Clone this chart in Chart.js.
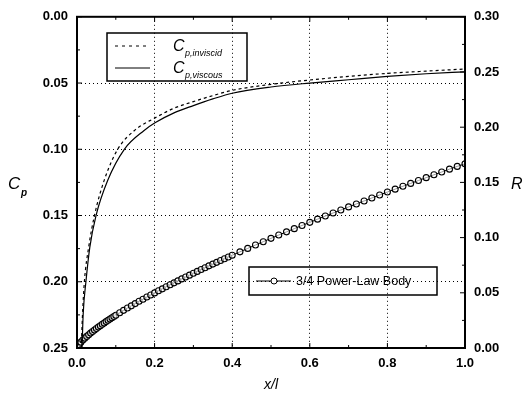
<!DOCTYPE html>
<html>
<head>
<meta charset="utf-8">
<script src="https://cdn.jsdelivr.net/npm/chart.js@4"></script>
<style>
  html, body { margin: 0; padding: 0; background: #fff; }
  #wrap { width: 524px; height: 395px; }
</style>
</head>
<body>
<div id="wrap"><canvas id="cpChart" width="524" height="395"></canvas></div>
<script>
// Cp along the body (left axis, reversed)
const xInviscid = [0.011, 0.014, 0.019, 0.030, 0.045, 0.070, 0.105, 0.148, 0.200, 0.250, 0.300, 0.350, 0.400, 0.500, 0.600, 0.700, 0.800, 0.900, 1.000];
const cpInviscid = [0.250, 0.226, 0.200, 0.174, 0.150, 0.1235, 0.100, 0.0858, 0.0765, 0.069, 0.064, 0.0595, 0.0555, 0.051, 0.0477, 0.045, 0.0427, 0.041, 0.0394];

const xViscous = [0.013, 0.016, 0.023, 0.033, 0.049, 0.079, 0.122, 0.173, 0.201, 0.250, 0.300, 0.350, 0.400, 0.500, 0.600, 0.700, 0.800, 0.900, 1.000];
const cpViscous = [0.250, 0.224, 0.200, 0.174, 0.150, 0.1235, 0.100, 0.0858, 0.080, 0.0725, 0.067, 0.062, 0.0577, 0.053, 0.050, 0.0475, 0.045, 0.043, 0.0415];

// body radius, 3/4 power-law (right axis)
const xBody = [0, 0.005, 0.01, 0.015, 0.02, 0.025, 0.03, 0.035, 0.04, 0.045, 0.05, 0.055, 0.06, 0.065, 0.07, 0.075, 0.08, 0.085, 0.09, 0.095,
  0.10, 0.11, 0.12, 0.13, 0.14, 0.15, 0.16, 0.17, 0.18, 0.19, 0.20, 0.21, 0.22, 0.23, 0.24, 0.25, 0.26, 0.27, 0.28, 0.29,
  0.30, 0.31, 0.32, 0.33, 0.34, 0.35, 0.36, 0.37, 0.38, 0.39, 0.40, 0.42, 0.44, 0.46, 0.48, 0.50, 0.52, 0.54, 0.56, 0.58, 0.60,
  0.62, 0.64, 0.66, 0.68, 0.70, 0.72, 0.74, 0.76, 0.78, 0.80, 0.82, 0.84, 0.86, 0.88, 0.90, 0.92, 0.94, 0.96, 0.98, 1.00];
const rBody = [0, 0.0031, 0.0053, 0.0072, 0.0089, 0.0105, 0.0120, 0.0135, 0.0149, 0.0163, 0.0177, 0.0190, 0.0202, 0.0215, 0.0227, 0.0239, 0.0251, 0.0263, 0.0274, 0.0286,
  0.0297, 0.0319, 0.0341, 0.0362, 0.0382, 0.0402, 0.0423, 0.0442, 0.0462, 0.0480, 0.0499, 0.0518, 0.0536, 0.0555, 0.0573, 0.0590, 0.0608, 0.0626, 0.0643, 0.0660,
  0.0677, 0.0694, 0.0711, 0.0727, 0.0744, 0.0760, 0.0776, 0.0792, 0.0808, 0.0824, 0.0840, 0.0871, 0.0902, 0.0933, 0.0963, 0.0993, 0.1023, 0.1052, 0.1081, 0.1110, 0.1138,
  0.1167, 0.1195, 0.1223, 0.1250, 0.1278, 0.1305, 0.1332, 0.1359, 0.1386, 0.1413, 0.1439, 0.1465, 0.1491, 0.1517, 0.1543, 0.1569, 0.1594, 0.1620, 0.1645, 0.1668];

const xTicks = [0, 0.2, 0.4, 0.6, 0.8, 1.0];
const cpTicks = [0, 0.05, 0.10, 0.15, 0.20, 0.25];
const rTicks = [0, 0.05, 0.10, 0.15, 0.20, 0.25, 0.30];

const toPts = (xs, ys) => xs.map((x, i) => ({ x, y: ys[i] }));
const tickFont = { family: 'Liberation Sans, Arial, sans-serif', size: 13, weight: 'bold' };

// frame, inward ticks, axis titles and the two legend boxes
const decorations = {
  id: 'decorations',
  afterDraw(chart) {
    const { ctx, chartArea: a, scales } = chart;
    ctx.save();
    ctx.strokeStyle = '#000';
    ctx.lineWidth = 2;
    ctx.strokeRect(a.left, a.top, a.right - a.left, a.bottom - a.top);

    ctx.lineWidth = 1;
    ctx.beginPath();
    for (let i = 0; i <= 10; i++) {
      const px = scales.x.getPixelForValue(i / 10);
      const len = i % 2 === 0 ? 5 : 3;
      ctx.moveTo(px, a.bottom); ctx.lineTo(px, a.bottom - len);
      ctx.moveTo(px, a.top); ctx.lineTo(px, a.top + len);
    }
    for (let i = 0; i <= 10; i++) {
      const py = scales.y.getPixelForValue(i * 0.025);
      const len = i % 2 === 0 ? 5 : 3;
      ctx.moveTo(a.left, py); ctx.lineTo(a.left + len, py);
    }
    for (let i = 0; i <= 12; i++) {
      const py = scales.y2.getPixelForValue(i * 0.025);
      const len = i % 2 === 0 ? 5 : 3;
      ctx.moveTo(a.right, py); ctx.lineTo(a.right - len, py);
    }
    ctx.stroke();

    // axis titles
    ctx.fillStyle = '#000';
    ctx.textBaseline = 'alphabetic';
    ctx.textAlign = 'left';
    ctx.font = 'italic 17px Liberation Sans, Arial, sans-serif';
    ctx.fillText('C', 8, 189);
    ctx.font = 'italic bold 10px Liberation Sans, Arial, sans-serif';
    ctx.fillText('p', 21, 196);
    ctx.font = 'italic 16px Liberation Sans, Arial, sans-serif';
    ctx.fillText('R', 511, 189);
    ctx.font = 'italic 14px Liberation Sans, Arial, sans-serif';
    ctx.fillText('x/l', 264, 389);

    // legend 1
    ctx.lineWidth = 1.5;
    ctx.strokeRect(107, 33, 140, 48);
    ctx.lineWidth = 1;
    ctx.setLineDash([3, 4]);
    ctx.beginPath(); ctx.moveTo(115, 46); ctx.lineTo(150, 46); ctx.stroke();
    ctx.setLineDash([]);
    ctx.beginPath(); ctx.moveTo(115, 68); ctx.lineTo(150, 68); ctx.stroke();
    ctx.font = 'italic 16px Liberation Sans, Arial, sans-serif';
    ctx.fillText('C', 173, 51);
    ctx.fillText('C', 173, 73);
    ctx.font = 'italic 9px Liberation Sans, Arial, sans-serif';
    ctx.fillText('p,inviscid', 185, 56);
    ctx.fillText('p,viscous', 185, 78);

    // legend 2
    ctx.lineWidth = 1.5;
    ctx.strokeRect(249, 267, 188, 28);
    ctx.lineWidth = 1;
    ctx.beginPath(); ctx.moveTo(256, 281); ctx.lineTo(291, 281); ctx.stroke();
    ctx.beginPath(); ctx.arc(274, 281, 3, 0, Math.PI * 2);
    ctx.fillStyle = '#fff'; ctx.fill(); ctx.stroke();
    ctx.fillStyle = '#000';
    ctx.font = '12.5px Liberation Sans, Arial, sans-serif';
    ctx.textBaseline = 'middle';
    ctx.fillText('3/4 Power-Law Body', 296, 282);
    ctx.restore();
  }
};

new Chart(document.getElementById('cpChart').getContext('2d'), {
  type: 'scatter',
  data: {
    datasets: [
      { label: 'Cp,inviscid', data: toPts(xInviscid, cpInviscid), yAxisID: 'y', showLine: true,
        borderColor: '#000', borderWidth: 1.2, borderDash: [3, 3], pointRadius: 0, cubicInterpolationMode: 'monotone' },
      { label: 'Cp,viscous', data: toPts(xViscous, cpViscous), yAxisID: 'y', showLine: true,
        borderColor: '#000', borderWidth: 1.2, pointRadius: 0, cubicInterpolationMode: 'monotone' },
      { label: '3/4 Power-Law Body', data: toPts(xBody, rBody), yAxisID: 'y2', showLine: true,
        borderColor: '#000', borderWidth: 1, pointStyle: 'circle', pointRadius: 3,
        pointBackgroundColor: 'rgba(255,255,255,0.6)', pointBorderColor: '#000', pointBorderWidth: 1.1 }
    ]
  },
  options: {
    responsive: false,
    animation: false,
    devicePixelRatio: 1,
    layout: { padding: { top: 16, left: 0, right: 0, bottom: 0 } },
    plugins: { legend: { display: false }, tooltip: { enabled: false } },
    scales: {
      x: {
        type: 'linear', min: 0, max: 1,
        afterBuildTicks: s => { s.ticks = xTicks.map(v => ({ value: v })); },
        afterFit: s => { s.height = 47; },
        ticks: { font: tickFont, color: '#000', padding: 8, callback: v => v.toFixed(1) },
        grid: { color: '#000', lineWidth: 1, drawTicks: false },
        border: { display: false, dash: [1, 3] }
      },
      y: {
        type: 'linear', position: 'left', reverse: true, min: 0, max: 0.25,
        afterBuildTicks: s => { s.ticks = cpTicks.map(v => ({ value: v })); },
        afterFit: s => { s.width = 77; },
        ticks: { font: tickFont, color: '#000', padding: 9, callback: v => v.toFixed(2) },
        grid: { color: '#000', lineWidth: 1, drawTicks: false },
        border: { display: false, dash: [1, 3] }
      },
      y2: {
        type: 'linear', position: 'right', min: 0, max: 0.30,
        afterBuildTicks: s => { s.ticks = rTicks.map(v => ({ value: v })); },
        afterFit: s => { s.width = 59; },
        ticks: { font: tickFont, color: '#000', padding: 9, callback: v => v.toFixed(2) },
        grid: { display: false, drawTicks: false },
        border: { display: false }
      }
    }
  },
  plugins: [decorations]
});
</script>
</body>
</html>
